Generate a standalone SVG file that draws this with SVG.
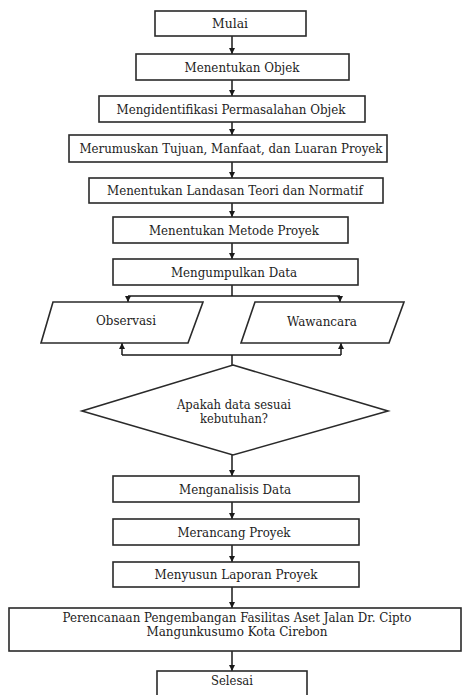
<svg xmlns="http://www.w3.org/2000/svg" width="465" height="695" viewBox="0 0 465 695">
<defs>
<marker id="ah" viewBox="0 0 10 10" refX="10" refY="5" markerWidth="6" markerHeight="6" markerUnits="userSpaceOnUse" orient="auto">
<path d="M0,0 L10,5 L0,10 z" fill="#1a1a1a"/>
</marker>
<style>
.n{fill:#fff;stroke:#2a2a2a;stroke-width:1.6}
.t{font-family:"DejaVu Serif",serif;font-size:12px;fill:#222;text-anchor:middle}
.c{fill:none;stroke:#1a1a1a;stroke-width:1.5}
</style>
</defs>
<rect width="465" height="695" fill="#fff"/>
<g id="connectors">
<path class="c" d="M232,36 V54" marker-end="url(#ah)"/>
<path class="c" d="M232,80 V96" marker-end="url(#ah)"/>
<path class="c" d="M232,122 V135" marker-end="url(#ah)"/>
<path class="c" d="M232,162 V178" marker-end="url(#ah)"/>
<path class="c" d="M232,203 V217" marker-end="url(#ah)"/>
<path class="c" d="M232,243 V259" marker-end="url(#ah)"/>
<path class="c" d="M232,285 V296 M128,296 H340"/>
<path class="c" d="M128,296 V302" marker-end="url(#ah)"/>
<path class="c" d="M340,296 V302" marker-end="url(#ah)"/>
<path class="c" d="M122,355 V343" marker-end="url(#ah)"/>
<path class="c" d="M341,355 V343" marker-end="url(#ah)"/>
<path class="c" d="M122,355 H341 M232,355 V365"/>
<path class="c" d="M232,455 V476" marker-end="url(#ah)"/>
<path class="c" d="M232,502 V519" marker-end="url(#ah)"/>
<path class="c" d="M232,545 V562" marker-end="url(#ah)"/>
<path class="c" d="M232,587 V608" marker-end="url(#ah)"/>
<path class="c" d="M232,651 V671" marker-end="url(#ah)"/>
</g>
<g id="mulai"><rect class="n" x="155" y="11" width="151" height="25"/><text class="t" x="230" y="28" textLength="36" lengthAdjust="spacingAndGlyphs">Mulai</text></g>
<g id="objek"><rect class="n" x="136" y="54" width="213" height="26"/><text class="t" x="242" y="71.5" textLength="115" lengthAdjust="spacingAndGlyphs">Menentukan Objek</text></g>
<g id="identifikasi"><rect class="n" x="99" y="96" width="266" height="26"/><text class="t" x="231" y="113.5" textLength="229" lengthAdjust="spacingAndGlyphs">Mengidentifikasi Permasalahan Objek</text></g>
<g id="merumuskan"><rect class="n" x="69" y="135" width="318" height="27"/><text class="t" x="231" y="153" textLength="303" lengthAdjust="spacingAndGlyphs">Merumuskan Tujuan, Manfaat, dan Luaran Proyek</text></g>
<g id="landasan"><rect class="n" x="89" y="178" width="294" height="25"/><text class="t" x="235" y="195" textLength="256" lengthAdjust="spacingAndGlyphs">Menentukan Landasan Teori dan Normatif</text></g>
<g id="metode"><rect class="n" x="113" y="217" width="235" height="26"/><text class="t" x="234" y="234.5" textLength="170" lengthAdjust="spacingAndGlyphs">Menentukan Metode Proyek</text></g>
<g id="mengumpulkan"><rect class="n" x="113" y="259" width="245" height="26"/><text class="t" x="234" y="276.5" textLength="126" lengthAdjust="spacingAndGlyphs">Mengumpulkan Data</text></g>
<g id="observasi"><polygon class="n" points="53,302 203,302 188,343 41,343"/><text class="t" x="126" y="324.5" textLength="60" lengthAdjust="spacingAndGlyphs">Observasi</text></g>
<g id="wawancara"><polygon class="n" points="255,302 404,302 389,343 241,343"/><text class="t" x="322" y="325.5" textLength="70" lengthAdjust="spacingAndGlyphs">Wawancara</text></g>
<g id="keputusan"><polygon class="n" points="233,365 388,411 233,455 82,411"/><text class="t" x="234" y="408.5" textLength="114" lengthAdjust="spacingAndGlyphs">Apakah data sesuai</text><text class="t" x="234" y="422.5" textLength="68" lengthAdjust="spacingAndGlyphs">kebutuhan?</text></g>
<g id="menganalisis"><rect class="n" x="113" y="476" width="246" height="26"/><text class="t" x="235" y="493.5" textLength="112" lengthAdjust="spacingAndGlyphs">Menganalisis Data</text></g>
<g id="merancang"><rect class="n" x="113" y="519" width="246" height="26"/><text class="t" x="234" y="536.5" textLength="113" lengthAdjust="spacingAndGlyphs">Merancang Proyek</text></g>
<g id="menyusun"><rect class="n" x="113" y="562" width="246" height="25"/><text class="t" x="236" y="579" textLength="163" lengthAdjust="spacingAndGlyphs">Menyusun Laporan Proyek</text></g>
<g id="perencanaan"><rect class="n" x="9" y="608" width="452" height="43"/><text class="t" x="237" y="621.5" textLength="349" lengthAdjust="spacingAndGlyphs">Perencanaan Pengembangan Fasilitas Aset Jalan Dr. Cipto</text><text class="t" x="237" y="635.5" textLength="181" lengthAdjust="spacingAndGlyphs">Mangunkusumo Kota Cirebon</text></g>
<g id="selesai"><rect class="n" x="157" y="671" width="150" height="27"/><text class="t" x="232" y="685" textLength="42" lengthAdjust="spacingAndGlyphs">Selesai</text></g>
</svg>
